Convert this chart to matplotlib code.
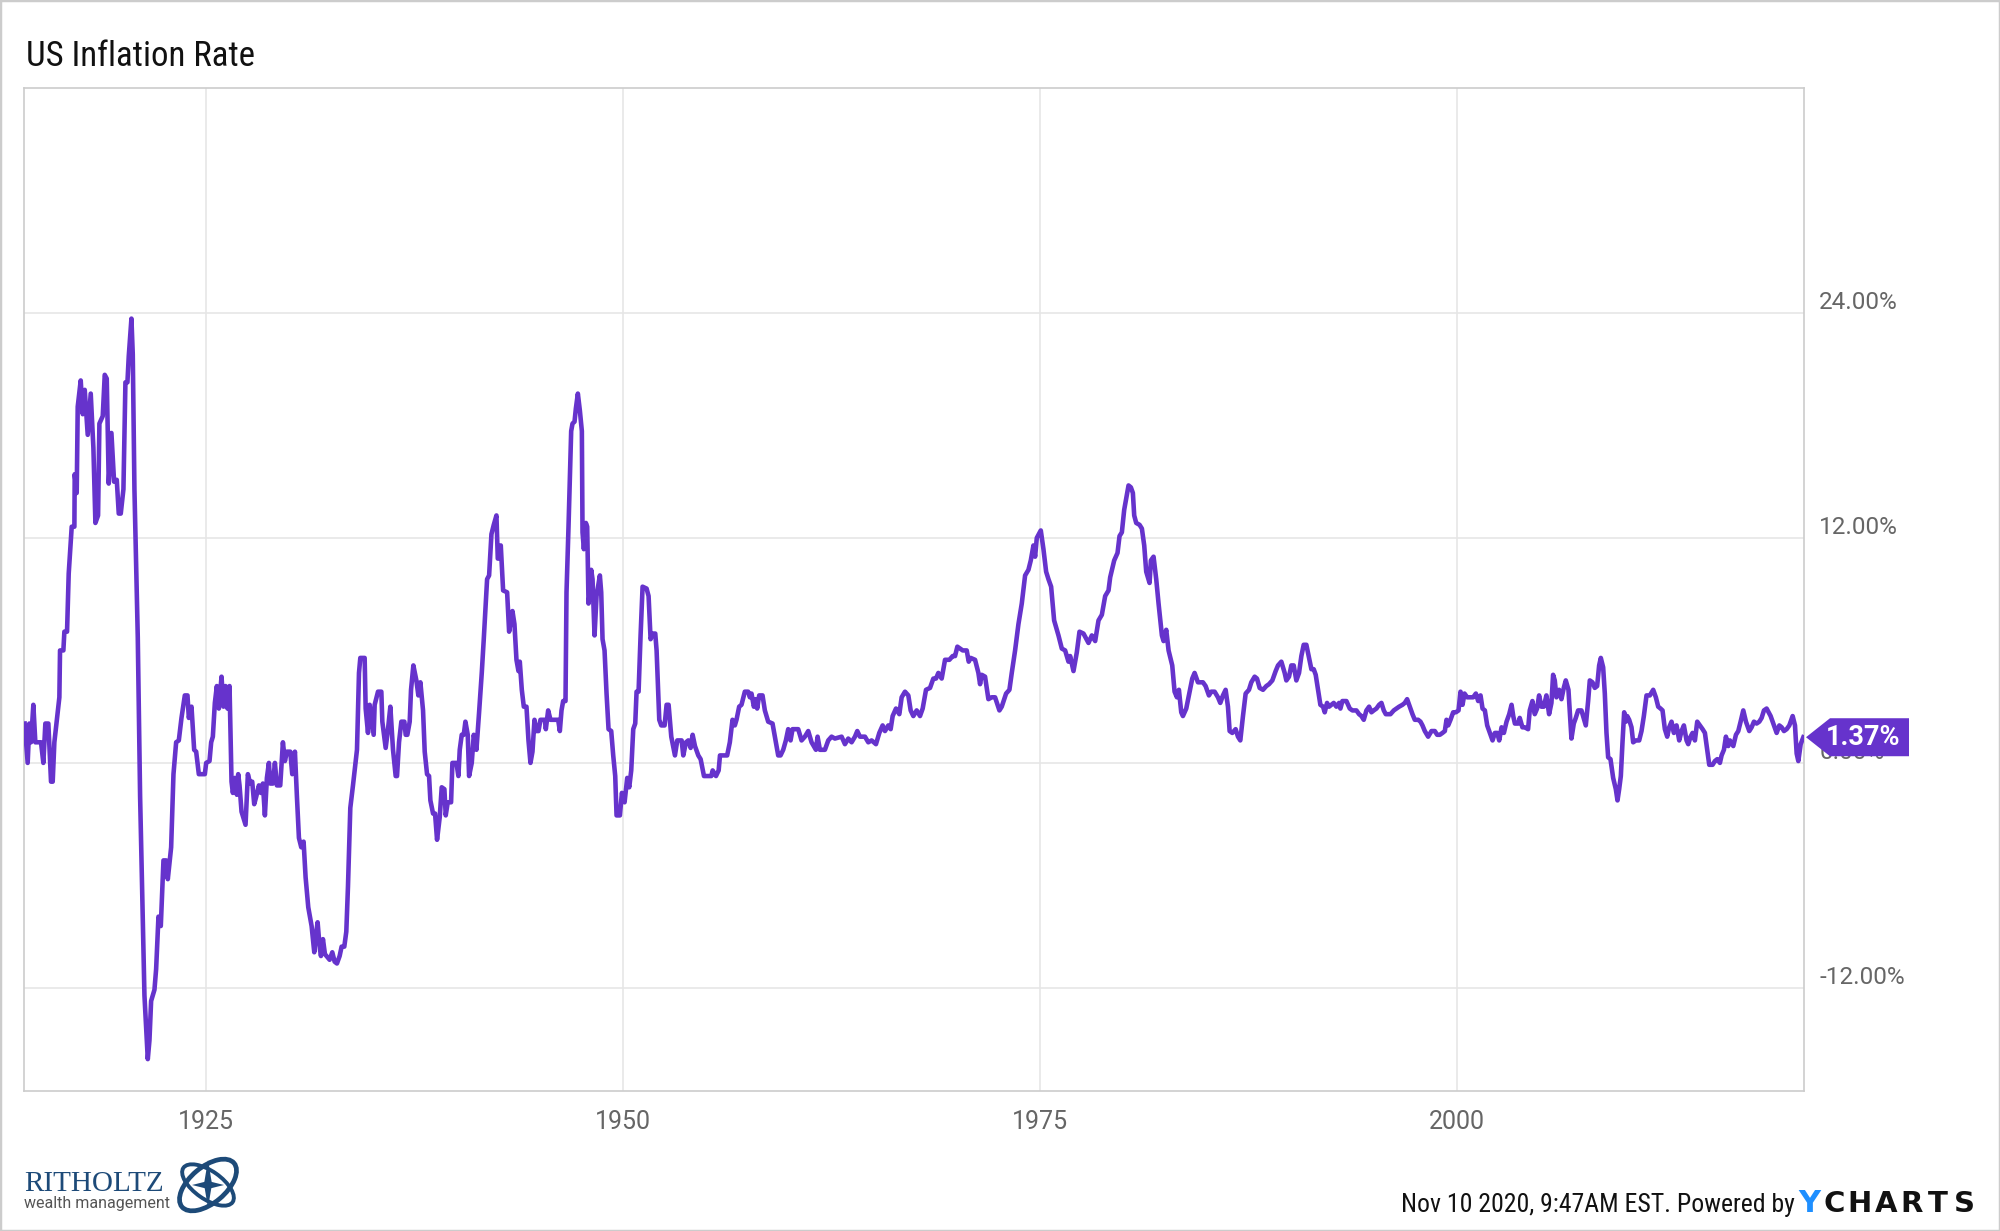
import numpy as np
import matplotlib
matplotlib.use('Agg')
import matplotlib.pyplot as plt
from matplotlib import font_manager
from matplotlib.patches import Ellipse, Polygon, Rectangle

# --- data: US CPI year-over-year inflation (%) ---
yrs_1914 = [1914.14, 1914.32, 1914.42, 1914.52, 1914.66, 1914.78, 1915.12, 1915.26, 1915.38, 1915.56,
            1915.72, 1915.82, 1915.92, 1916.22, 1916.26, 1916.46, 1916.52, 1916.68, 1916.78, 1916.96,
            1917.12, 1917.14, 1917.26, 1917.32, 1917.5, 1917.62, 1917.74, 1917.92, 1918.1, 1918.26,
            1918.38, 1918.54, 1918.62, 1918.82, 1918.94, 1919.06, 1919.18, 1919.34, 1919.5, 1919.66,
            1919.78, 1919.9, 1920.06, 1920.18, 1920.3, 1920.38, 1920.54, 1920.62, 1920.72, 1920.92,
            1921.06, 1921.18, 1921.32, 1921.52, 1921.62, 1921.72, 1921.92, 1922.02, 1922.16, 1922.3,
            1922.46, 1922.62, 1922.72, 1922.92, 1923.06, 1923.22, 1923.38, 1923.54, 1923.74, 1923.9,
            1923.98, 1924.14, 1924.3, 1924.42, 1924.58, 1924.94, 1925.02, 1925.22, 1925.32, 1925.42,
            1925.54, 1925.66, 1925.78, 1925.94, 1926.06, 1926.18, 1926.3, 1926.42, 1926.54, 1926.62,
            1926.74, 1926.86, 1926.94, 1927.02, 1927.14, 1927.38, 1927.52, 1927.66, 1927.78, 1927.9,
            1928.02, 1928.18, 1928.3, 1928.42, 1928.54, 1928.66, 1928.78, 1928.86, 1929.02, 1929.14,
            1929.26, 1929.46, 1929.62, 1929.74, 1929.86, 1930.06, 1930.18, 1930.34, 1930.46, 1930.58,
            1930.72, 1930.86, 1930.98, 1931.14, 1931.34, 1931.5, 1931.58, 1931.7, 1931.82, 1931.9,
            1932.02, 1932.14, 1932.42, 1932.58, 1932.72, 1932.86, 1933.02, 1933.14, 1933.3, 1933.42,
            1933.52, 1933.66, 1933.82, 1934.06, 1934.18, 1934.26, 1934.52, 1934.58, 1934.72, 1934.82]
cpi_1914 = [2.1, 0.0, 2.1, 1.1, 3.1, 1.1, 1.1, 0.0, 2.1, 2.1,
            -1.0, -1.0, 1.1, 3.5, 6.0, 6.0, 7.0, 7.0, 10.1, 12.6,
            12.6, 15.4, 14.4, 19.0, 20.4, 18.6, 19.9, 17.5, 19.7, 16.8,
            12.8, 13.2, 18.1, 18.5, 20.7, 20.5, 14.9, 17.6, 15.0, 15.1,
            13.3, 13.3, 14.6, 20.3, 20.3, 21.7, 23.7, 21.8, 14.6, 6.7,
            -1.8, -6.6, -12.4, -15.8, -14.8, -12.7, -12.1, -11.0, -8.2, -8.7,
            -5.2, -5.2, -6.2, -4.5, -0.6, 1.1, 1.2, 2.4, 3.6, 3.6,
            2.4, 3.0, 0.7, 0.6, -0.6, -0.6, 0.0, 0.1, 1.1, 1.4,
            3.2, 4.1, 2.9, 4.6, 3.0, 4.1, 2.9, 4.1, -1.0, -1.6,
            -0.8, -1.7, -0.6, -1.2, -2.6, -3.3, -0.6, -1.1, -1.0, -2.2,
            -1.8, -1.2, -1.6, -1.1, -2.8, -0.8, 0.0, -1.1, -1.1, 0.0,
            -1.2, -1.2, 1.1, 0.1, 0.6, 0.6, -0.6, 0.6, -1.8, -4.0,
            -4.5, -4.2, -6.1, -7.7, -8.7, -10.1, -9.3, -8.5, -9.8, -10.3,
            -9.4, -10.2, -10.5, -10.1, -10.6, -10.7, -10.3, -9.8, -9.8, -9.0,
            -6.6, -2.4, -1.2, 0.7, 4.8, 5.6, 5.6, 2.9, 1.6, 3.1]

yrs_1935 = [1935.06, 1935.12, 1935.32, 1935.52, 1935.58, 1935.78, 1935.92, 1936.06, 1936.22, 1936.38,
            1936.46, 1936.58, 1936.72, 1936.9, 1936.98, 1937.08, 1937.22, 1937.3, 1937.44, 1937.62,
            1937.74, 1937.86, 1938.02, 1938.12, 1938.26, 1938.38, 1938.46, 1938.62, 1938.74, 1938.86,
            1939.02, 1939.14, 1939.3, 1939.38, 1939.5, 1939.7, 1939.78, 1940.02, 1940.14, 1940.22,
            1940.34, 1940.46, 1940.56, 1940.7, 1940.78, 1940.94, 1941.06, 1941.22, 1941.38, 1941.54,
            1941.66, 1941.86, 1941.98, 1942.12, 1942.26, 1942.42, 1942.5, 1942.58, 1942.68, 1942.82,
            1943.06, 1943.18, 1943.38, 1943.5, 1943.62, 1943.74, 1943.82, 1943.94, 1944.06, 1944.22,
            1944.34, 1944.46, 1944.58, 1944.7, 1944.82, 1944.94, 1945.06, 1945.32, 1945.38, 1945.52,
            1945.66, 1946.12, 1946.22, 1946.32, 1946.42, 1946.56, 1946.62, 1946.74, 1946.9, 1946.98,
            1947.1, 1947.18, 1947.3, 1947.42, 1947.54, 1947.58, 1947.66, 1947.78, 1947.86, 1947.94,
            1948.02, 1948.1, 1948.18, 1948.3, 1948.42, 1948.62, 1948.7, 1948.78, 1948.9, 1949.02,
            1949.14, 1949.3, 1949.42, 1949.54, 1949.62, 1949.82, 1949.94, 1950.1, 1950.26, 1950.38,
            1950.5, 1950.62, 1950.74, 1950.82, 1950.94, 1951.06, 1951.18, 1951.42, 1951.54, 1951.66,
            1951.78, 1951.94, 1952.02, 1952.18, 1952.3, 1952.5, 1952.62, 1952.74, 1952.9, 1953.12,
            1953.26, 1953.52, 1953.62, 1953.78, 1953.92, 1954.06, 1954.18, 1954.32, 1954.52, 1954.66,
            1954.86, 1955.06, 1955.3, 1955.38, 1955.58, 1955.74, 1955.82]
cpi_1935 = [1.5, 3.1, 3.8, 3.8, 2.2, 0.8, 1.8, 3.0, 0.7, -0.7,
            -0.7, 1.1, 2.2, 2.2, 1.5, 1.5, 2.2, 3.9, 5.2, 4.4,
            3.6, 4.3, 2.8, 0.6, -0.6, -0.7, -2.0, -2.7, -2.7, -4.1,
            -2.9, -1.3, -1.4, -2.8, -2.1, -2.1, 0.0, 0.0, -0.7, 0.7,
            1.5, 1.5, 2.2, 1.5, -0.7, 0.0, 1.5, 0.7, 2.7, 4.8,
            6.6, 9.8, 10.0, 12.2, 12.7, 13.2, 10.9, 10.9, 11.6, 9.2,
            9.1, 7.0, 8.1, 7.4, 5.5, 4.9, 5.4, 3.9, 3.0, 3.0,
            1.2, 0.0, 0.6, 2.3, 1.7, 1.7, 2.3, 2.3, 1.8, 2.8,
            2.3, 2.3, 1.7, 2.8, 3.3, 3.3, 9.1, 12.6, 17.7, 18.1,
            18.2, 18.9, 19.7, 18.8, 17.7, 12.3, 11.4, 12.8, 12.6, 8.5,
            9.1, 10.3, 9.8, 6.8, 8.9, 10.0, 9.1, 6.6, 6.0, 3.7,
            1.8, 1.7, 0.4, -0.7, -2.8, -2.8, -1.6, -2.1, -0.8, -1.3,
            -0.4, 1.8, 2.1, 3.8, 3.8, 6.8, 9.4, 9.3, 8.9, 6.6,
            6.9, 6.9, 6.0, 2.3, 2.0, 2.0, 3.1, 3.1, 1.4, 0.4,
            1.2, 1.2, 0.4, 1.1, 1.2, 0.8, 1.5, 0.9, 0.4, 0.2,
            -0.7, -0.7, -0.7, -0.4, -0.7, -0.4, 0.4]

yrs_1956 = [1956.25, 1956.41, 1956.57, 1956.71, 1956.81, 1956.97, 1957.11, 1957.31, 1957.51, 1957.61,
            1957.71, 1957.85, 1957.97, 1958.05, 1958.17, 1958.37, 1958.51, 1958.71, 1958.97, 1959.11,
            1959.31, 1959.45, 1959.61, 1959.77, 1959.91, 1960.05, 1960.17, 1960.51, 1960.71, 1960.91,
            1961.11, 1961.31, 1961.57, 1961.67, 1961.81, 1962.11, 1962.31, 1962.51, 1962.71, 1963.11,
            1963.31, 1963.51, 1963.71, 1963.91, 1964.05, 1964.21, 1964.51, 1964.71, 1964.91, 1965.17,
            1965.37, 1965.57, 1965.71, 1965.91, 1966.05, 1966.17, 1966.37, 1966.57, 1966.71, 1966.91,
            1967.11, 1967.25, 1967.41, 1967.61, 1967.81, 1967.97, 1968.17, 1968.41, 1968.61, 1968.77,
            1968.91, 1969.11, 1969.31, 1969.57, 1969.77, 1969.91, 1970.05, 1970.21, 1970.37, 1970.61,
            1970.73, 1970.85, 1971.11, 1971.31, 1971.41, 1971.51, 1971.71, 1971.91, 1972.11, 1972.31,
            1972.57, 1972.71, 1972.97, 1973.17, 1973.31, 1973.51, 1973.71, 1973.91, 1974.11, 1974.31,
            1974.45, 1974.61, 1974.71, 1974.81, 1975.05, 1975.21, 1975.37, 1975.51, 1975.67, 1975.85,
            1976.11, 1976.31, 1976.51, 1976.71, 1976.81, 1977.01, 1977.21, 1977.37, 1977.61, 1977.91,
            1978.11, 1978.31, 1978.51, 1978.71, 1978.91, 1979.11, 1979.21, 1979.45, 1979.65, 1979.77,
            1979.91, 1980.05, 1980.17, 1980.31, 1980.45, 1980.57, 1980.65, 1980.77, 1980.97, 1981.11,
            1981.25, 1981.37, 1981.57, 1981.65, 1981.81, 1981.97, 1982.11, 1982.31, 1982.41, 1982.57,
            1982.71]
cpi_1956 = [0.4, 1.1, 2.3, 2.0, 2.3, 3.0, 3.1, 3.8, 3.8, 3.5,
            3.7, 3.0, 3.4, 2.9, 3.6, 3.6, 2.8, 2.2, 2.1, 1.4,
            0.4, 0.4, 0.7, 1.2, 1.8, 1.2, 1.8, 1.8, 1.2, 1.4,
            1.7, 1.1, 0.7, 1.4, 0.7, 0.7, 1.2, 1.4, 1.3, 1.4,
            1.0, 1.3, 1.1, 1.4, 1.7, 1.4, 1.4, 1.1, 1.2, 1.0,
            1.6, 2.0, 1.7, 2.0, 1.8, 2.5, 2.9, 2.6, 3.5, 3.8,
            3.6, 2.8, 2.5, 2.8, 2.5, 2.9, 3.9, 4.0, 4.5, 4.5,
            4.8, 4.5, 5.5, 5.5, 5.7, 5.7, 6.2, 6.1, 6.0, 6.0,
            5.4, 5.6, 5.5, 4.8, 4.2, 4.7, 4.6, 3.4, 3.5, 3.5,
            2.8, 3.0, 3.7, 3.9, 4.8, 6.0, 7.4, 8.5, 10.0, 10.3,
            10.8, 11.6, 11.0, 12.0, 12.4, 11.4, 10.2, 9.8, 9.4, 7.6,
            6.8, 6.1, 6.0, 5.4, 5.7, 4.9, 5.9, 7.0, 6.9, 6.4,
            6.8, 6.5, 7.6, 7.9, 8.9, 9.2, 9.9, 10.8, 11.2, 12.1,
            12.3, 13.5, 14.1, 14.8, 14.7, 14.4, 13.2, 12.8, 12.7, 12.5,
            11.6, 10.2, 9.6, 10.8, 11.0, 9.8, 8.5, 6.8, 6.5, 7.1,
            6.0]

yrs_1983 = [1982.93, 1983.07, 1983.21, 1983.33, 1983.47, 1983.57, 1983.77, 1983.93, 1984.13, 1984.27,
            1984.47, 1984.77, 1984.93, 1985.13, 1985.27, 1985.47, 1985.67, 1985.81, 1985.97, 1986.13,
            1986.27, 1986.37, 1986.53, 1986.73, 1986.87, 1987.01, 1987.17, 1987.33, 1987.53, 1987.67,
            1987.87, 1988.01, 1988.17, 1988.37, 1988.57, 1988.73, 1988.93, 1989.13, 1989.27, 1989.47,
            1989.67, 1989.77, 1989.93, 1990.07, 1990.21, 1990.37, 1990.53, 1990.67, 1990.81, 1990.97,
            1991.13, 1991.27, 1991.41, 1991.53, 1991.67, 1991.81, 1991.97, 1992.07, 1992.21, 1992.33,
            1992.47, 1992.61, 1992.77, 1992.93, 1993.01, 1993.13, 1993.37, 1993.57, 1993.73, 1993.97,
            1994.13, 1994.27, 1994.41, 1994.57, 1994.73, 1994.87, 1995.01, 1995.17, 1995.33, 1995.47,
            1995.61, 1995.73, 1995.87, 1996.01, 1996.21, 1996.37, 1996.53, 1996.73, 1996.87, 1997.01,
            1997.17, 1997.33, 1997.47, 1997.67, 1997.81, 1997.93, 1998.07, 1998.27, 1998.47, 1998.67,
            1998.81, 1998.97, 1999.13, 1999.27, 1999.37, 1999.47, 1999.61, 1999.77, 1999.93, 2000.09,
            2000.21, 2000.33, 2000.45, 2000.61, 2000.77, 2000.97, 2001.13, 2001.27, 2001.41, 2001.53,
            2001.67, 2001.81, 2001.97, 2002.13, 2002.27, 2002.41, 2002.53, 2002.67, 2002.81, 2002.97,
            2003.13, 2003.27, 2003.37, 2003.47, 2003.67]
cpi_1983 = [5.2, 3.8, 3.5, 3.9, 2.7, 2.5, 2.9, 3.6, 4.5, 4.8,
            4.3, 4.3, 4.1, 3.6, 3.8, 3.8, 3.5, 3.2, 3.6, 3.9,
            3.0, 1.7, 1.6, 1.8, 1.4, 1.2, 2.5, 3.7, 3.9, 4.3,
            4.6, 4.5, 4.0, 3.9, 4.1, 4.2, 4.4, 4.9, 5.2, 5.4,
            4.8, 4.4, 4.6, 5.2, 5.2, 4.4, 4.8, 5.7, 6.3, 6.3,
            5.6, 5.0, 5.0, 4.7, 3.9, 3.1, 3.0, 2.7, 3.2, 3.0,
            3.1, 3.2, 3.0, 3.2, 2.9, 3.3, 3.3, 2.9, 2.8, 2.8,
            2.6, 2.5, 2.3, 2.8, 3.0, 2.7, 2.8, 2.9, 3.1, 3.2,
            2.8, 2.6, 2.6, 2.6, 2.8, 2.9, 3.0, 3.1, 3.2, 3.4,
            3.0, 2.6, 2.3, 2.3, 2.2, 2.0, 1.7, 1.4, 1.7, 1.7,
            1.5, 1.5, 1.6, 1.7, 2.3, 2.0, 2.3, 2.7, 2.7, 2.8,
            3.8, 3.1, 3.7, 3.5, 3.5, 3.5, 3.7, 3.3, 3.6, 2.9,
            2.8, 2.0, 1.6, 1.2, 1.6, 1.6, 1.2, 1.9, 1.6, 2.2,
            2.6, 3.1, 2.5, 2.1, 2.1]

yrs_2004 = [2003.76, 2003.92, 2004.06, 2004.26, 2004.36, 2004.52, 2004.66, 2004.8, 2004.92, 2005.06,
            2005.2, 2005.36, 2005.52, 2005.66, 2005.76, 2005.86, 2005.96, 2006.12, 2006.26, 2006.4,
            2006.52, 2006.68, 2006.76, 2006.86, 2007.0, 2007.12, 2007.26, 2007.46, 2007.56, 2007.72,
            2007.86, 2007.96, 2008.12, 2008.26, 2008.4, 2008.52, 2008.62, 2008.76, 2008.86, 2008.96,
            2009.06, 2009.2, 2009.36, 2009.52, 2009.62, 2009.72, 2009.82, 2009.92, 2010.02, 2010.12,
            2010.2, 2010.32, 2010.46, 2010.56, 2010.72, 2010.92, 2011.06, 2011.2, 2011.36, 2011.56,
            2011.76, 2011.92, 2012.06, 2012.2, 2012.32, 2012.46, 2012.6, 2012.72, 2012.86, 2013.0,
            2013.16, 2013.32, 2013.46, 2013.6, 2013.76, 2013.86, 2014.0, 2014.12, 2014.26, 2014.4,
            2014.56, 2014.72, 2014.86, 2015.0, 2015.12, 2015.32, 2015.46, 2015.6, 2015.76, 2015.86,
            2016.0, 2016.12, 2016.26, 2016.36, 2016.56, 2016.72, 2016.86, 2017.0, 2017.16, 2017.32,
            2017.52, 2017.66, 2017.8, 2017.96, 2018.12, 2018.26, 2018.4, 2018.56, 2018.68, 2018.8,
            2018.96, 2019.16, 2019.32, 2019.46, 2019.6, 2019.76, 2019.92, 2020.12, 2020.26, 2020.36,
            2020.46, 2020.6, 2020.76]
cpi_2004 = [2.4, 1.9, 1.9, 1.8, 2.8, 3.3, 2.6, 2.9, 3.6, 3.0,
            3.0, 3.6, 2.6, 3.2, 4.7, 4.4, 3.5, 3.9, 3.4, 4.0,
            4.4, 3.9, 2.7, 1.3, 2.1, 2.4, 2.8, 2.8, 2.5, 2.0,
            3.3, 4.4, 4.3, 4.0, 4.1, 5.2, 5.6, 5.1, 3.7, 1.6,
            0.3, 0.2, -0.8, -1.4, -2.0, -1.4, -0.7, 1.1, 2.7, 2.2,
            2.5, 2.3, 1.9, 1.1, 1.2, 1.2, 1.7, 2.5, 3.6, 3.6,
            3.9, 3.5, 3.0, 2.9, 2.8, 1.8, 1.4, 1.9, 2.2, 1.6,
            2.0, 1.2, 1.7, 2.0, 1.2, 1.0, 1.4, 1.6, 1.2, 2.2,
            2.0, 1.8, 1.6, 0.7, -0.1, -0.1, 0.1, 0.2, 0.0, 0.4,
            0.7, 1.4, 0.9, 1.2, 0.9, 1.5, 1.7, 2.2, 2.8, 2.2,
            1.7, 1.9, 2.2, 2.1, 2.2, 2.4, 2.8, 2.9, 2.7, 2.5,
            2.1, 1.6, 2.0, 1.9, 1.7, 1.8, 2.0, 2.5, 2.0, 0.5,
            0.1, 1.0, 1.37]

y_ticks = [24, 12, 0, -12]
x_ticks = [1925, 1950, 1975, 2000]
last_label = '1.37%'

years = np.array(yrs_1914 + yrs_1935 + yrs_1956 + yrs_1983 + yrs_2004)
rate = np.array(cpi_1914 + cpi_1935 + cpi_1956 + cpi_1983 + cpi_2004)

purple = '#6633cc'
grid_c = '#e6e6e6'
spine_c = '#cccccc'
tick_c = '#666666'

names = {f.name for f in font_manager.fontManager.ttflist}
cond = 'Roboto Condensed' if 'Roboto Condensed' in names else 'Roboto'
plt.rcParams['font.family'] = ['Roboto', 'DejaVu Sans']

W, H = 2000, 1231
fig = plt.figure(figsize=(W / 100, H / 100), dpi=100)
fig.patch.set_facecolor('white')
ax = fig.add_axes([24 / W, 1 - 1091 / H, (1804 - 24) / W, (1091 - 88) / H])

ax.plot(years, rate, color=purple, lw=3.3, solid_joinstyle='round', zorder=3)
ax.set_xlim(1914.1, 2020.8)
ax.set_ylim(-17.5, 36.0)

ax.set_xticks(x_ticks)
ax.set_xticklabels([str(t) for t in x_ticks])
ax.set_yticks(y_ticks)
ax.set_yticklabels([])
ax.tick_params(axis='x', length=0, pad=14, labelsize=18, labelcolor=tick_c)
ax.tick_params(axis='y', length=0)
ax.grid(True, color=grid_c, lw=1.2)
ax.set_axisbelow(True)
for s in ax.spines.values():
    s.set_color(spine_c)
    s.set_linewidth(1.2)

# y labels on the right, sitting on their grid lines
for t in y_ticks:
    ax.annotate(f'{t:.2f}%', xy=(1, t), xycoords=('axes fraction', 'data'),
                xytext=(11, -1), textcoords='offset points', ha='left', va='bottom',
                fontsize=17.5, color=tick_c, zorder=1)

# last value flag
fig.canvas.draw()
tip_x = ax.transAxes.transform((1, 0))[0] + 2
tip_y = ax.transData.transform((0, rate[-1]))[1]
hh = 19
flag = Polygon([(tip_x, tip_y), (tip_x + 24, tip_y + hh), (tip_x + 103, tip_y + hh),
                (tip_x + 103, tip_y - hh), (tip_x + 24, tip_y - hh)],
               closed=True, transform=None, fc=purple, ec='none', zorder=10)
fig.add_artist(flag)
fig.text((tip_x + 57) / W, tip_y / H, last_label, ha='center', va='center', color='white',
         fontsize=19.5, fontweight='bold', zorder=11)

# title and footer
fig.text(26 / W, 1 - 66 / H, 'US Inflation Rate', fontsize=25, family=[cond, 'DejaVu Sans'],
         color='#111111', ha='left', va='baseline')
fig.text(1795 / W, 1 - 1212 / H, 'Nov 10 2020, 9:47AM EST. Powered by', fontsize=18.5,
         family=[cond, 'DejaVu Sans'], color='#111111', ha='right', va='baseline')
fig.text(1798 / W, 1 - 1212 / H, 'Y', fontsize=22, fontweight='bold', color='#1e8fff',
         family=['DejaVu Sans'], ha='left', va='baseline')
for i, ch in enumerate('CHARTS'):
    fig.text((1834 + 26 * i) / W, 1 - 1212 / H, ch, fontsize=21, fontweight='bold',
             color='#111111', family=['DejaVu Sans'], ha='center', va='baseline')

# Ritholtz logo
fig.text(24 / W, 1 - 1191 / H, 'RITHOLTZ', fontsize=21, family=['Liberation Serif'],
         color='#1d4a78', ha='left', va='baseline')
fig.text(24 / W, 1 - 1208 / H, 'wealth management', fontsize=11.5, color='#555555',
         ha='left', va='baseline')
lax = fig.add_axes([170 / W, 1 - 1220 / H, 74 / W, 70 / H])
lax.set_xlim(0, 74)
lax.set_ylim(0, 70)
lax.axis('off')
lax.add_patch(Ellipse((38, 35), 68, 36, angle=40, fill=False, ec='#1d4a78', lw=3.4))
lax.add_patch(Ellipse((38, 35), 60, 28, angle=-35, fill=False, ec='#1d4a78', lw=2.8))
lax.add_patch(Polygon([(38, 60), (42, 36), (38, 12), (34, 36)], closed=True,
                      fc='#1d4a78', ec='none'))
lax.add_patch(Polygon([(22, 35), (38, 39), (54, 35), (38, 31)], closed=True,
                      fc='#1d4a78', ec='none'))

# outer frame
fig.add_artist(Rectangle((0, 0), 1, 1, transform=fig.transFigure, fill=False,
                         ec='#cccccc', lw=2.5))

fig.savefig('out.png', dpi=100, facecolor='white')
